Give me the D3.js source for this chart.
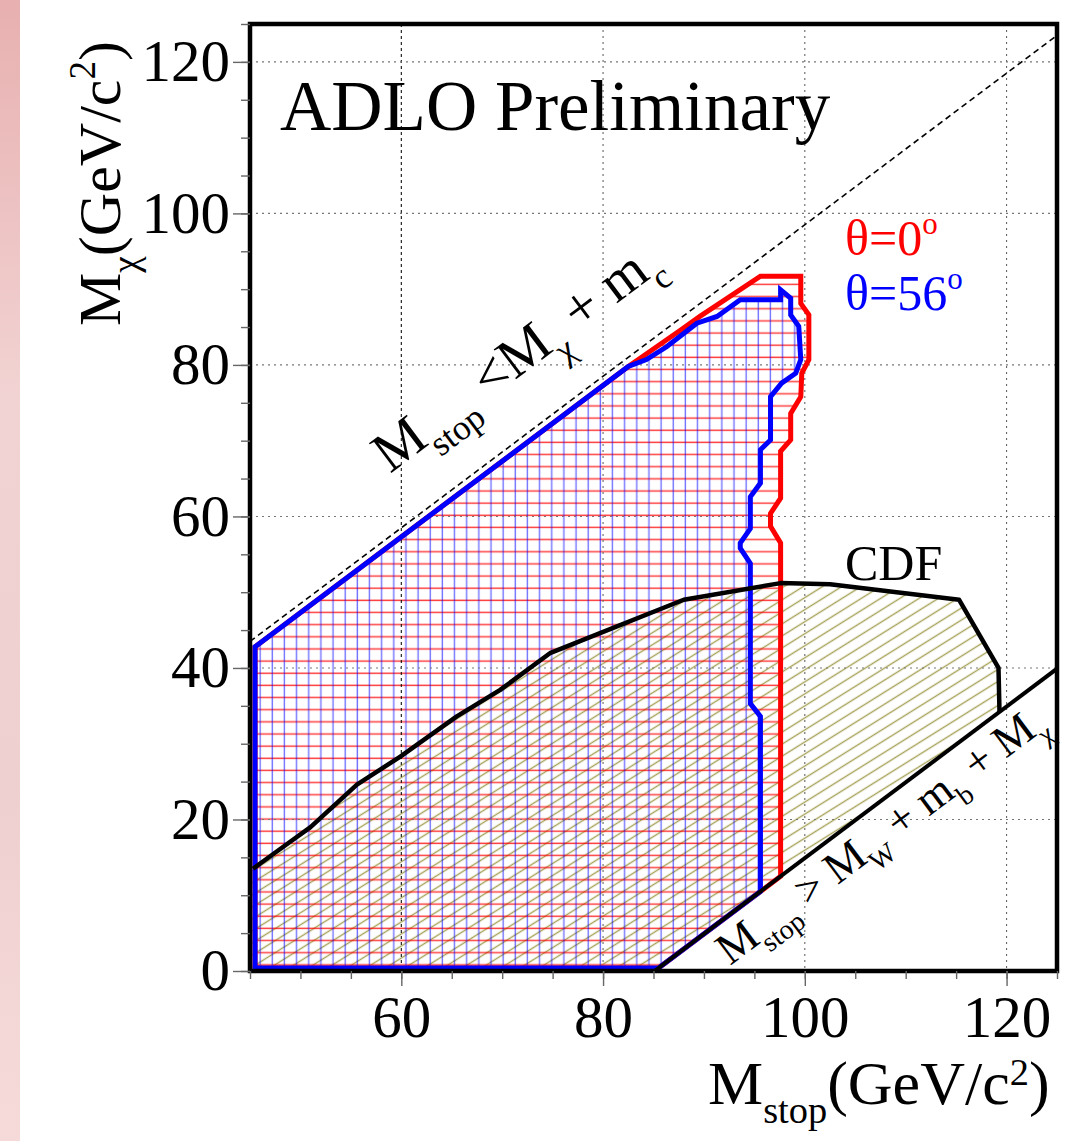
<!DOCTYPE html>
<html>
<head>
<meta charset="utf-8">
<script src="https://cdn.jsdelivr.net/npm/d3@7"></script>
<style>
  html, body { margin: 0; padding: 0; background: #fff; }
  svg { display: block; font-family: "Liberation Serif", "DejaVu Serif", serif; }
</style>
</head>
<body>
<svg id="chart" width="1077" height="1141"></svg>
<script>
// axis ticks
const xMajorTicks = [60, 80, 100, 120]
const yMajorTicks = [0, 20, 40, 60, 80, 100, 120]

// kinematic limits (GeV)
const mCharm = 1.5
const mWplusB = 85.1

// CDF excluded region, upper contour
const cdfMstop = [45.3, 48.3, 51.0, 55.6, 59.9, 65.5, 69.8, 74.8, 79.7, 88.0, 97.6, 102.5, 115.3, 119.2, 119.3]
const cdfMchi  = [13.5, 16.4, 19.0, 24.6, 28.3, 33.6, 37.1, 42.0, 44.6, 49.0, 51.2, 51.05, 49.0, 40.0, 34.2]

// ADLO theta = 0 deg excluded region
const th0Mstop = [45.5, 45.5, 82.5, 87.7, 89.6, 95.6, 99.6, 99.6, 100.4, 100.4, 99.7, 99.6, 98.6, 98.6, 97.6, 97.6, 96.6, 96.6, 97.6, 97.6, 85.5]
const th0Mchi  = [0.4, 42.8, 79.8, 84.6, 86.4, 91.7, 91.7, 88.1, 86.6, 80.7, 78.9, 75.8, 73.6, 70.1, 68.6, 62.4, 60.4, 58.7, 56.5, 12.5, 0.4]

// ADLO theta = 56 deg excluded region
const th56Mstop = [45.5, 45.5, 82.5, 84.3, 86.3, 89.3, 91.3, 93.6, 97.6, 97.6, 98.6, 98.6, 99.4, 99.6, 99.1, 97.7, 96.6, 96.6, 95.6, 95.6, 94.6, 94.6, 93.6, 93.6, 94.6, 94.6, 95.6, 95.6, 85.5]
const th56Mchi  = [0.4, 42.8, 79.8, 80.7, 82.4, 85.5, 86.4, 88.6, 88.6, 89.9, 88.8, 86.6, 85.1, 80.7, 78.9, 77.6, 75.8, 70.1, 68.8, 64.4, 62.6, 58.4, 56.5, 55.8, 53.8, 35.3, 33.6, 10.5, 0.4]

const svg = d3.select('#chart')
const fLeft = 250, fRight = 1057, fTop = 24, fBottom = 971

const x = d3.scaleLinear().domain([45, 125]).range([fLeft, fRight])
const y = d3.scaleLinear().domain([0, 125]).range([fBottom, fTop])

const defs = svg.append('defs')

// pinkish strip at the left edge of the slide
const grad = defs.append('linearGradient').attr('id', 'pink').attr('x1', 0).attr('x2', 0).attr('y1', 0).attr('y2', 1)
grad.append('stop').attr('offset', 0).attr('stop-color', '#e8b0b0')
grad.append('stop').attr('offset', 0.35).attr('stop-color', '#f2d3d3')
grad.append('stop').attr('offset', 0.7).attr('stop-color', '#efd0d0')
grad.append('stop').attr('offset', 1).attr('stop-color', '#f6dada')
svg.append('rect').attr('x', 0).attr('y', 0).attr('width', 20).attr('height', 1141).attr('fill', 'url(#pink)')

defs.append('clipPath').attr('id', 'frame')
    .append('rect').attr('x', fLeft).attr('y', fTop).attr('width', fRight - fLeft).attr('height', fBottom - fTop)

// hatch patterns
const hRed = defs.append('pattern').attr('id', 'hatchRed').attr('patternUnits', 'userSpaceOnUse')
    .attr('width', 12.15).attr('height', 12.15)
hRed.append('line').attr('x1', 0).attr('x2', 12.15).attr('y1', 5).attr('y2', 5)
    .attr('stroke', '#ff0000').attr('stroke-width', 1.5).attr('stroke-opacity', 0.75)

const hBlue = defs.append('pattern').attr('id', 'hatchBlue').attr('patternUnits', 'userSpaceOnUse')
    .attr('width', 12.15).attr('height', 12.15)
hBlue.append('line').attr('y1', 0).attr('y2', 12.15).attr('x1', 5).attr('x2', 5)
    .attr('stroke', '#0000ff').attr('stroke-width', 1.4).attr('stroke-opacity', 0.55)

const hOlive = defs.append('pattern').attr('id', 'hatchOlive').attr('patternUnits', 'userSpaceOnUse')
    .attr('width', 40).attr('height', 10.2).attr('patternTransform', 'rotate(-32)')
hOlive.append('line').attr('x1', 0).attr('x2', 40).attr('y1', 5).attr('y2', 5)
    .attr('stroke', '#a6a258').attr('stroke-width', 1.4)

const line = d3.line().x(d => x(d[0])).y(d => y(d[1]))
const zip = (a, b) => a.map((v, i) => [v, b[i]])

const cdfPts = zip(cdfMstop, cdfMchi)
const th0Pts = zip(th0Mstop, th0Mchi)
const th56Pts = zip(th56Mstop, th56Mchi)

const plot = svg.append('g').attr('clip-path', 'url(#frame)')

// fills
plot.append('path')
    .attr('d', line([...cdfPts, [mWplusB, 0], [45, 0], [45, cdfMchi[0]]]) + 'Z')
    .attr('fill', 'url(#hatchOlive)')
plot.append('path').attr('d', line(th0Pts) + 'Z').attr('fill', 'url(#hatchRed)')
plot.append('path').attr('d', line(th56Pts) + 'Z').attr('fill', 'url(#hatchBlue)')

// grid
plot.selectAll('.vgrid').data(xMajorTicks).enter().append('line')
    .attr('x1', d => x(d)).attr('x2', d => x(d)).attr('y1', fTop).attr('y2', fBottom)
    .attr('stroke', d => d === 60 ? '#111' : '#666').attr('stroke-width', 1.1)
    .attr('stroke-dasharray', d => d === 60 ? '3,3' : '2,4')
plot.selectAll('.hgrid').data(yMajorTicks.filter(d => d > 0)).enter().append('line')
    .attr('y1', d => y(d)).attr('y2', d => y(d)).attr('x1', fLeft).attr('x2', fRight)
    .attr('stroke', '#777').attr('stroke-width', 1.1).attr('stroke-dasharray', '2,4')

// M_stop = M_chi + m_c
plot.append('path').attr('d', line([[45, 45 - mCharm], [125, 125 - mCharm]]))
    .attr('stroke', '#000').attr('stroke-width', 1.6).attr('stroke-dasharray', '6,4').attr('fill', 'none')

// outlines
plot.append('path').attr('d', line(th0Pts) + 'Z')
    .attr('fill', 'none').attr('stroke', '#ff0000').attr('stroke-width', 5).attr('stroke-linejoin', 'miter')
plot.append('path').attr('d', line(th56Pts) + 'Z')
    .attr('fill', 'none').attr('stroke', '#0000ff').attr('stroke-width', 5).attr('stroke-linejoin', 'miter')
plot.append('path').attr('d', line(cdfPts))
    .attr('fill', 'none').attr('stroke', '#000').attr('stroke-width', 4.5).attr('stroke-linejoin', 'round')

// M_stop = M_W + m_b + M_chi
plot.append('path').attr('d', line([[mWplusB, 0], [125, 125 - mWplusB]]))
    .attr('stroke', '#000').attr('stroke-width', 4).attr('fill', 'none')

// frame
svg.append('rect').attr('x', fLeft).attr('y', fTop).attr('width', fRight - fLeft).attr('height', fBottom - fTop)
    .attr('fill', 'none').attr('stroke', '#000').attr('stroke-width', 4.5)

// axes
const styleAxis = g => {
    g.select('.domain').remove()
    g.selectAll('.tick line').attr('stroke', '#666').attr('stroke-width', 1.4)
    g.selectAll('.tick text').attr('font-family', '"Liberation Serif", serif').attr('font-size', 59).attr('fill', '#000')
}
svg.append('g').attr('transform', `translate(0,${fBottom})`)
    .call(d3.axisBottom(x).tickValues(d3.range(45, 126, 5)).tickSize(8).tickFormat(''))
    .call(styleAxis)
svg.append('g').attr('transform', `translate(0,${fBottom})`)
    .call(d3.axisBottom(x).tickValues(xMajorTicks).tickSize(15).tickPadding(9))
    .call(styleAxis)
svg.append('g').attr('transform', `translate(${fLeft},0)`)
    .call(d3.axisLeft(y).tickValues(d3.range(0, 126, 5)).tickSize(9).tickFormat(''))
    .call(styleAxis)
svg.append('g').attr('transform', `translate(${fLeft},0)`)
    .call(d3.axisLeft(y).tickValues(yMajorTicks).tickSize(17).tickPadding(3))
    .call(styleAxis)

// rich text helper: parts = [[text, 'sub'|'sup'|null], ...]
function rich(g, parts, size, color, supRaise) {
    const t = g.append('text').attr('font-size', size).attr('fill', color || '#000')
    let shift = 0
    parts.forEach(([s, kind]) => {
        const target = kind === 'sub' ? size * 0.3 : kind === 'sup' ? -size * (supRaise || 0.42) : 0
        t.append('tspan').attr('dy', target - shift)
            .attr('font-size', kind ? size * 0.62 : size).text(s)
        shift = target
    })
    return t
}

// titles
rich(svg.append('g').attr('transform', 'translate(708,1104)'),
    [['M'], ['stop', 'sub'], ['(GeV/c'], ['2', 'sup'], [')']], 62, '#000', 0.3)
rich(svg.append('g').attr('transform', 'translate(120,326) rotate(-90)'),
    [['M'], ['χ', 'sub'], ['(GeV/c'], ['2', 'sup'], [')']], 60)

svg.append('text').attr('x', 280).attr('y', 130).attr('font-size', 71).text('ADLO Preliminary')
svg.append('text').attr('x', 845).attr('y', 580).attr('font-size', 50).text('CDF')

rich(svg.append('g').attr('transform', 'translate(845,255)'),
    [['θ=0'], ['o', 'sup']], 50, '#ff0000')
rich(svg.append('g').attr('transform', 'translate(845,310)'),
    [['θ=56'], ['o', 'sup']], 50, '#0000ff')

const ang = Math.atan((y(0) - y(1)) / (x(1) - x(0))) * 180 / Math.PI
rich(svg.append('g').attr('transform', `translate(390,474) rotate(${-ang})`),
    [['M'], ['stop', 'sub'], [' <'], ['M'], ['χ', 'sub'], [' + m'], ['c', 'sub']], 57)
rich(svg.append('g').attr('transform', `translate(730,966) rotate(${-ang})`),
    [['M'], ['stop', 'sub'], [' > M'], ['W', 'sub'], [' + m'], ['b', 'sub'], [' + M'], ['χ', 'sub']], 45)
</script>
</body>
</html>
